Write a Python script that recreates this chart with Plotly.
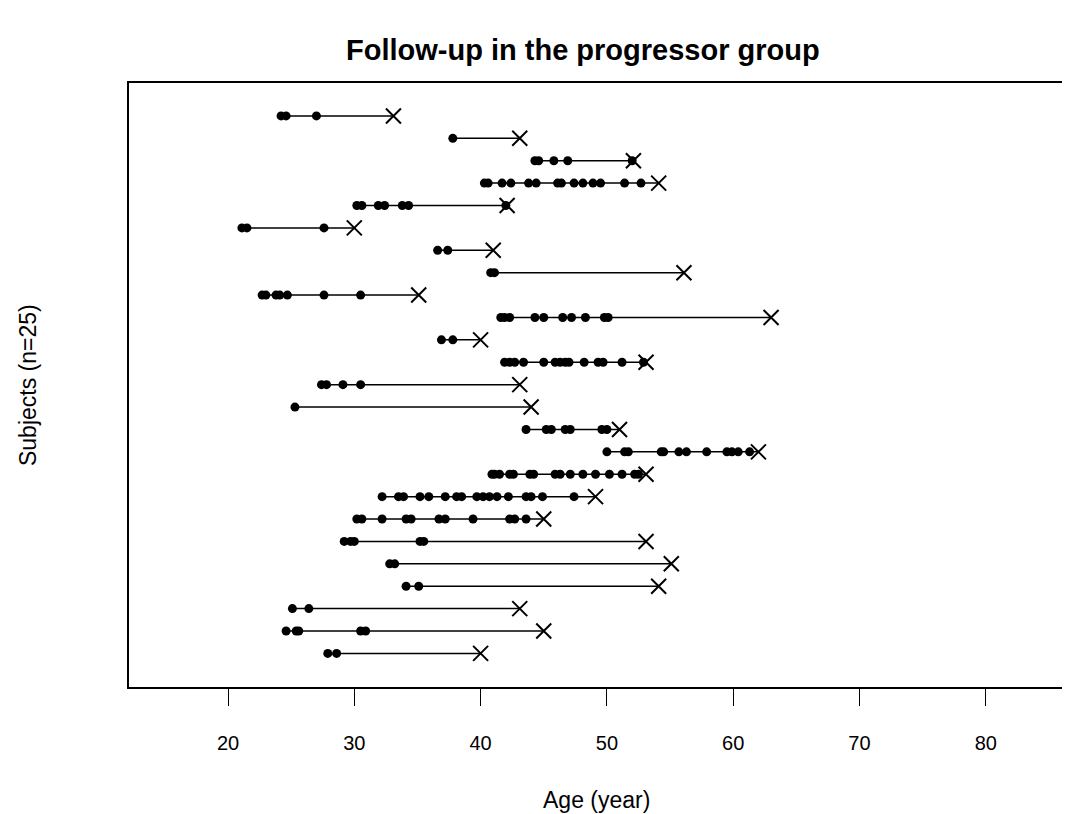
import plotly.graph_objects as go

# Visit ages for each subject (row 1 = top of chart)
visits = [
    [24.2, 24.6, 27.0],
    [37.8],
    [44.3, 44.6, 45.8, 46.9, 52.0],
    [40.3, 40.6, 41.7, 42.4, 43.8, 44.4, 46.1, 46.4, 47.4, 48.1, 48.9, 49.5, 51.4, 52.7],
    [30.2, 30.6, 31.9, 32.4, 33.8, 34.3, 42.0],
    [21.1, 21.5, 27.6],
    [36.6, 37.4],
    [40.8, 41.1],
    [22.7, 23.0, 23.8, 24.1, 24.7, 27.6, 30.5],
    [41.6, 41.9, 42.3, 44.3, 45.0, 46.5, 47.2, 48.3, 49.8, 50.1],
    [36.9, 37.8],
    [41.9, 42.3, 42.7, 43.4, 45.0, 45.9, 46.3, 46.7, 47.0, 48.2, 49.3, 49.7, 51.2, 52.9],
    [27.4, 27.8, 29.1, 30.5],
    [25.3],
    [43.6, 45.2, 45.6, 46.7, 47.1, 49.6, 50.0],
    [50.0, 51.4, 51.7, 54.3, 54.5, 55.7, 56.3, 57.9, 59.5, 59.9, 60.4, 61.3],
    [40.9, 41.1, 41.5, 42.3, 42.6, 43.9, 44.2, 45.9, 46.3, 47.1, 48.1, 49.1, 50.2, 51.2, 52.2, 52.5],
    [32.2, 33.5, 33.9, 35.2, 35.9, 37.2, 38.1, 38.5, 39.7, 40.2, 40.7, 41.3, 42.2, 43.6, 44.0, 44.9, 47.4],
    [30.2, 30.6, 32.2, 34.1, 34.5, 36.7, 37.2, 39.4, 42.3, 42.7, 43.6],
    [29.2, 29.7, 30.0, 35.2, 35.5],
    [32.8, 33.2],
    [34.1, 35.1],
    [25.1, 26.4],
    [24.6, 25.4, 25.6, 30.5, 30.9],
    [27.9, 28.6],
]

# Age at end of follow-up (progression) for each subject
end_age = [33.1, 43.1, 52.1, 54.1, 42.1, 30.0, 41.0, 56.1, 35.1, 63.0,
           40.0, 53.1, 43.1, 44.0, 51.0, 62.0, 53.1, 49.1, 45.0, 53.1,
           55.1, 54.1, 43.1, 45.0, 40.0]

x_ticks = [20, 30, 40, 50, 60, 70, 80]

n = len(visits)
row_y = [n - i for i in range(n)]

line_x, line_y = [], []
dot_x, dot_y = [], []
for v, e, y in zip(visits, end_age, row_y):
    line_x += [v[0], e, None]
    line_y += [y, y, None]
    dot_x += v
    dot_y += [y] * len(v)

fig = go.Figure()
fig.add_trace(go.Scatter(x=line_x, y=line_y, mode="lines",
                         line=dict(color="black", width=1.5),
                         hoverinfo="skip", showlegend=False))
fig.add_trace(go.Scatter(x=dot_x, y=dot_y, mode="markers",
                         marker=dict(symbol="circle", size=9, color="black"),
                         showlegend=False))
fig.add_trace(go.Scatter(x=end_age, y=row_y, mode="markers",
                         marker=dict(symbol="x-thin", size=15,
                                     line=dict(color="black", width=2)),
                         showlegend=False))

font = "Liberation Sans, Arial, sans-serif"
fig.update_layout(
    width=1062, height=806,
    margin=dict(l=121, r=0, t=75, b=127),
    paper_bgcolor="white", plot_bgcolor="white",
    font=dict(family=font, color="black"),
    xaxis=dict(range=[12.16, 86.67], tickvals=x_ticks,
               ticktext=[str(t) for t in x_ticks],
               showgrid=False, zeroline=False,
               showline=True, mirror=True, linecolor="black", linewidth=1.5,
               ticks="outside", ticklen=17, tickcolor="black", tickwidth=1,
               tickfont=dict(size=20, family=font),
               ticklabelstandoff=20),
    yaxis=dict(range=[-0.5, 26.47], showticklabels=False, ticks="",
               showgrid=False, zeroline=False,
               showline=True, mirror=False, linecolor="black", linewidth=1.5),
    annotations=[
        dict(text="<b>Follow-up in the progressor group</b>", xref="paper", yref="paper",
             x=0.4825, y=1.0548, showarrow=False, xanchor="center", yanchor="middle",
             font=dict(size=29, family=font)),
        dict(text="Age (year)", xref="paper", yref="paper",
             x=0.4963, y=-0.1877, showarrow=False, xanchor="center", yanchor="middle",
             font=dict(size=23, family=font)),
        dict(text="Subjects (n=25)", xref="paper", yref="paper",
             x=-0.1073, y=0.5, showarrow=False, xanchor="center", yanchor="middle",
             textangle=-90, font=dict(size=23, family=font)),
    ],
)

fig.write_html("out.html")
